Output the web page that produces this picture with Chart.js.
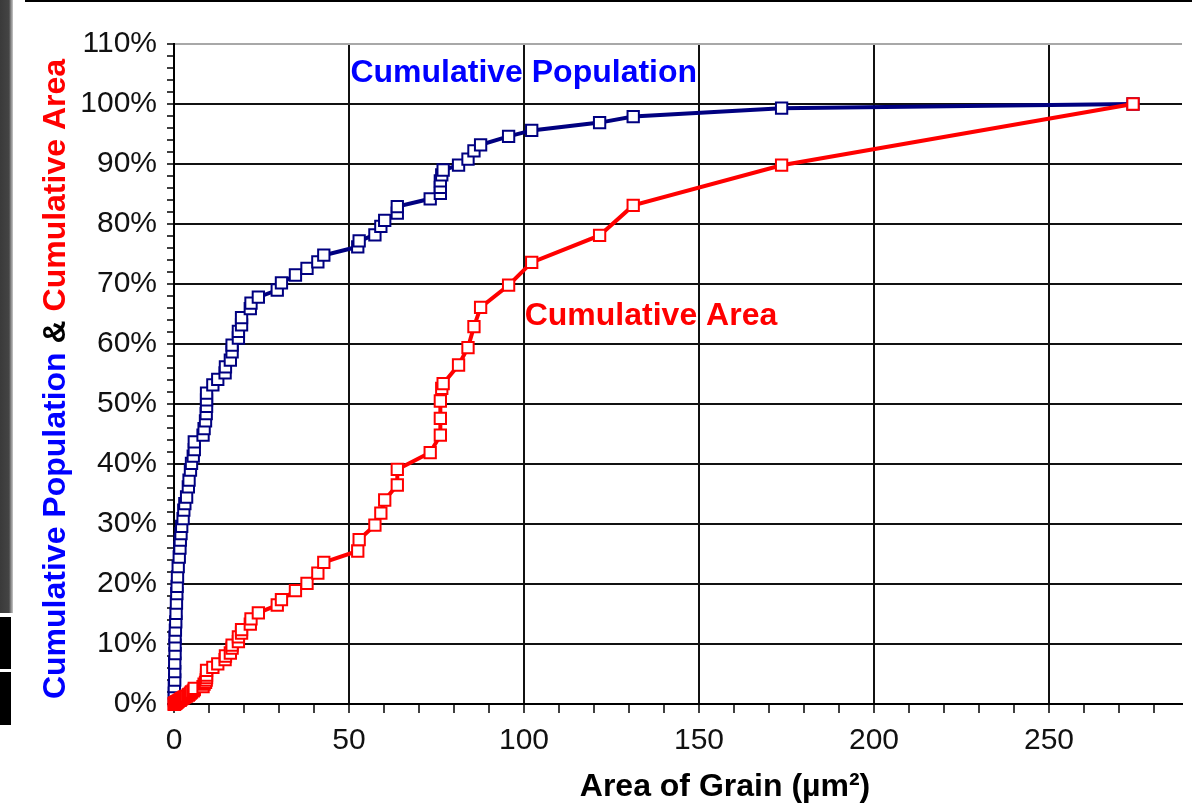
<!DOCTYPE html>
<html>
<head>
<meta charset="utf-8">
<script src="https://cdn.jsdelivr.net/npm/chart.js@4.4.1/dist/chart.umd.min.js"></script>
<style>
  body { margin: 0; background: #fff; }
  #wrap { position: relative; width: 1192px; height: 808px; overflow: hidden; }
  .deco { position: absolute; }
</style>
</head>
<body>
<div id="wrap">
  <canvas id="grain-chart" width="1192" height="808"></canvas>
  <div class="deco" style="left:25px;top:0;width:1167px;height:2px;background:#000"></div>
  <div class="deco" style="left:0;top:0;width:13px;height:613px;background:linear-gradient(to right,#3a3a3a 0,#444 9px,#8a8a8a 11px,#c8c8c8 13px)"></div>
  <div class="deco" style="left:0;top:617px;width:11px;height:52px;background:#000"></div>
  <div class="deco" style="left:0;top:672px;width:11px;height:53px;background:#000"></div>
</div>
<script>
// grain areas (um^2), sorted, with cumulative population and cumulative area (%)
const grainArea = [
  0.1, 0.1, 0.1, 0.2, 0.2, 0.2, 0.3, 0.3, 0.3, 0.4,
  0.5, 0.6, 0.7, 0.8, 0.9, 1.0, 1.2, 1.5, 1.7, 1.8,
  2.0, 2.2, 2.6, 2.8, 3.1, 3.6, 4.1, 4.3, 4.7, 5.0,
  5.5, 5.8, 5.8, 8.3, 8.6, 9.0, 9.2, 9.3, 9.3, 9.3,
  11.1, 12.5, 14.6, 14.7, 16.1, 16.6, 16.6, 18.4, 18.4, 19.3,
  19.3, 21.8, 22.0, 24.1, 29.5, 30.7, 34.7, 38.0, 41.1, 42.8,
  52.5, 52.9, 57.4, 59.1, 60.2, 63.8, 63.8, 73.2, 76.1, 76.1,
  76.1, 76.5, 76.9, 81.3, 84.0, 85.7, 87.6, 95.6, 102.2, 121.6,
  131.2, 173.6, 274.0
];
const cumPopulation = [
  0.7, 1.8, 2.9, 4.0, 5.4, 6.8, 8.4, 9.8, 11.2, 12.3,
  13.7, 15.1, 16.8, 18.4, 19.6, 21.2, 22.9, 24.5, 26.0, 27.3,
  28.4, 29.6, 30.9, 32.3, 33.4, 34.5, 36.2, 37.3, 39.0, 40.1,
  41.3, 42.4, 43.7, 44.8, 45.9, 47.2, 48.4, 49.6, 50.7, 51.8,
  53.2, 54.1, 55.2, 56.2, 57.3, 58.7, 59.8, 61.0, 62.1, 63.2,
  64.4, 65.9, 66.8, 67.8, 69.0, 70.2, 71.5, 72.6, 73.7, 74.8,
  76.2, 77.2, 78.2, 79.6, 80.6, 81.8, 82.9, 84.2, 85.1, 86.1,
  87.2, 88.2, 89.0, 89.8, 90.8, 92.2, 93.2, 94.6, 95.6, 96.9,
  97.9, 99.3, 100
];
const cumArea = [
  0.0, 0.0, 0.0, 0.0, 0.1, 0.1, 0.1, 0.1, 0.1, 0.2,
  0.2, 0.2, 0.3, 0.3, 0.4, 0.4, 0.5, 0.6, 0.6, 0.7,
  0.8, 0.9, 1.0, 1.1, 1.2, 1.3, 1.5, 1.6, 1.8, 2.0,
  2.2, 2.4, 2.6, 2.9, 3.3, 3.6, 4.0, 4.4, 4.8, 5.6,
  6.1, 6.7, 7.4, 8.0, 8.5, 9.3, 9.8, 10.4, 11.2, 11.8,
  12.4, 13.3, 14.2, 15.2, 16.5, 17.4, 18.9, 20.1, 21.8, 23.6,
  25.5, 27.4, 29.8, 31.8, 34.0, 36.5, 39.1, 41.9, 44.8, 47.6,
  50.5, 52.6, 53.4, 56.5, 59.4, 62.9, 66.1, 69.8, 73.6, 78.1,
  83.1, 89.8, 100
];
const xMajorTicks = [0, 50, 100, 150, 200, 250];
const yMajorTicks = [0, 10, 20, 30, 40, 50, 60, 70, 80, 90, 100, 110];

const FONT = "'Liberation Sans', Arial, sans-serif";
const NAVY = '#000080';
const RED = '#ff0000';

const toPoints = (ys) => grainArea.map((x, i) => ({ x: x, y: ys[i] }));

// axis titles and in-plot labels
const labelPlugin = {
  id: 'labels',
  afterDraw(chart) {
    const { ctx, scales: { x, y } } = chart;
    ctx.save();
    ctx.textBaseline = 'middle';
    ctx.textAlign = 'left';
    ctx.font = 'bold 32px ' + FONT;

    ctx.fillStyle = '#0000ff';
    ctx.fillText('Cumulative Population', x.getPixelForValue(50.4), y.getPixelForValue(105.2));
    ctx.fillStyle = RED;
    ctx.fillText('Cumulative Area', x.getPixelForValue(100.2), y.getPixelForValue(64.7));

    // x title
    ctx.fillStyle = '#000';
    ctx.textAlign = 'center';
    ctx.font = 'bold 32px ' + FONT;
    ctx.fillText('Area of Grain (\u00b5m\u00b2)', 725, 787);

    // y title, three colours
    const parts = [
      ['Cumulative Population', '#0000ff'],
      [' & ', '#000'],
      ['Cumulative Area', RED]
    ];
    ctx.font = 'bold 32px ' + FONT;
    ctx.textAlign = 'left';
    const total = parts.reduce((s, p) => s + ctx.measureText(p[0]).width, 0);
    ctx.translate(56, 379);
    ctx.rotate(-Math.PI / 2);
    let pos = -total / 2;
    parts.forEach(p => {
      ctx.fillStyle = p[1];
      ctx.fillText(p[0], pos, 0);
      pos += ctx.measureText(p[0]).width;
    });
    ctx.restore();
  }
};

new Chart(document.getElementById('grain-chart'), {
  type: 'scatter',
  data: {
    datasets: [
      {
        label: 'Cumulative Area',
        data: toPoints(cumArea),
        showLine: true,
        borderColor: RED,
        borderWidth: 4,
        pointStyle: 'rect',
        pointRadius: 8,
        pointBorderWidth: 2,
        pointBorderColor: RED,
        pointBackgroundColor: '#fff',
        clip: false,
        order: 0
      },
      {
        label: 'Cumulative Population',
        data: toPoints(cumPopulation),
        showLine: true,
        borderColor: NAVY,
        borderWidth: 4,
        pointStyle: 'rect',
        pointRadius: 8,
        pointBorderWidth: 2,
        pointBorderColor: NAVY,
        pointBackgroundColor: '#fff',
        clip: false,
        order: 1
      }
    ]
  },
  options: {
    responsive: false,
    animation: false,
    devicePixelRatio: 1,
    layout: { padding: { top: 44, left: 0, right: 0, bottom: 0 } },
    plugins: {
      legend: { display: false },
      tooltip: { enabled: false }
    },
    scales: {
      x: {
        type: 'linear',
        min: 0,
        max: 288,
        afterFit: (s) => { s.height = 104; },
        border: { color: '#000', width: 2 },
        grid: {
          color: (c) => (c.tick && c.tick.value > 0 && xMajorTicks.includes(c.tick.value)) ? '#111' : 'rgba(0,0,0,0)',
          lineWidth: 2,
          tickColor: '#000',
          tickLength: 9,
          tickWidth: 1.5
        },
        ticks: {
          stepSize: 10,
          includeBounds: false,
          autoSkip: false,
          maxRotation: 0,
          padding: 10,
          color: '#111',
          font: { family: FONT, size: 30 },
          callback: (v) => xMajorTicks.includes(v) ? String(v) : ''
        }
      },
      y: {
        min: 0,
        max: 110,
        afterFit: (s) => { s.width = 174; },
        border: { color: '#000', width: 2 },
        grid: {
          color: (c) => {
            if (!c.tick) return 'rgba(0,0,0,0)';
            const v = Math.round(c.tick.value);
            if (v === 110) return '#a8a8a8';
            return (v > 0 && yMajorTicks.includes(v)) ? '#111' : 'rgba(0,0,0,0)';
          },
          lineWidth: 2,
          tickColor: '#000',
          tickLength: 7,
          tickWidth: 1.5
        },
        ticks: {
          stepSize: 2,
          autoSkip: false,
          padding: 10,
          color: '#111',
          font: { family: FONT, size: 30 },
          callback: (v) => yMajorTicks.includes(Math.round(v)) ? Math.round(v) + '%' : ''
        }
      }
    }
  },
  plugins: [labelPlugin]
});
</script>
</body>
</html>
